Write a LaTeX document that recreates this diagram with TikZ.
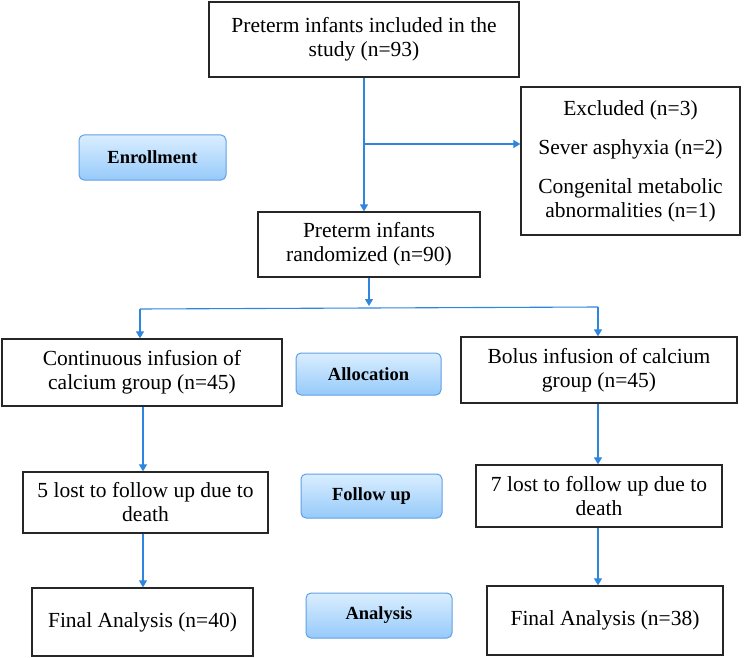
\documentclass[tikz,border=0pt]{standalone}
\usepackage{fontspec}
\setmainfont{LiberationSerif}[Extension=.ttf, UprightFont=*-Regular, BoldFont=*-Bold, ItalicFont=*-Italic, BoldItalicFont=*-BoldItalic]
\usetikzlibrary{arrows.meta}
\definecolor{arrowblue}{RGB}{46,134,222}
\definecolor{btnborder}{RGB}{95,160,228}
\definecolor{btntop}{RGB}{218,238,255}
\definecolor{btnbot}{RGB}{150,202,250}
\tikzset{
  flowbox/.style={draw=black!85, line width=1.3pt, fill=white, align=center,
    inner sep=2pt, font=\fontsize{21.5}{24}\selectfont},
  stagebtn/.style={draw=btnborder, line width=1pt, rounded corners=5pt,
    top color=btntop, bottom color=btnbot, align=center,
    font=\bfseries\fontsize{18.5}{22}\selectfont},
  flowarrow/.style={draw=arrowblue, line width=1.1pt,
    -{Triangle[width=8pt,length=7pt]}},
  flowline/.style={draw=arrowblue, line width=1.1pt}
}
\begin{document}
\begin{tikzpicture}[x=1pt,y=-1pt]
\useasboundingbox (0,0) rectangle (744,658);
% boxes
\node[flowbox, minimum width=310pt, minimum height=75pt] (top) at (364,39.5)
  {Preterm infants included in the\\ study (n=93)};
\node[flowbox, minimum width=219pt, minimum height=148pt] (excl) at (630.5,161)
  {Excluded (n=3)\\[15pt] Sever asphyxia (n=2)\\[15pt] Congenital metabolic\\ abnormalities (n=1)};
\node[flowbox, minimum width=222pt, minimum height=65pt] (rand) at (369,244.5)
  {Preterm infants\\ randomized (n=90)};
\node[flowbox, minimum width=280pt, minimum height=67pt] (contL) at (142,372.5)
  {Continuous infusion of\\ calcium group (n=45)};
\node[flowbox, minimum width=276pt, minimum height=66pt] (contR) at (599,370)
  {Bolus infusion of calcium\\ group (n=45)};
\node[flowbox, minimum width=245pt, minimum height=61pt] (folL) at (145.5,502.5)
  {5 lost to follow up due to\\ death};
\node[flowbox, minimum width=246pt, minimum height=62pt] (folR) at (599,496)
  {7 lost to follow up due to\\ death};
\node[flowbox, minimum width=221pt, minimum height=68pt] (finL) at (142.5,622)
  {Final Analysis (n=40)};
\node[flowbox, minimum width=236pt, minimum height=69pt] (finR) at (605,620.5)
  {Final Analysis (n=38)};
% stage buttons
\node[stagebtn, minimum width=147pt, minimum height=45pt] (enr) at (152.5,157.5) {Enrollment};
\node[stagebtn, minimum width=145pt, minimum height=42pt] (alloc) at (368.5,374) {Allocation};
\node[stagebtn, minimum width=141pt, minimum height=44pt] (follow) at (371.5,496) {Follow up};
\node[stagebtn, minimum width=146pt, minimum height=45pt] (anal) at (379,615.5) {Analysis};
% connector coordinates
\coordinate (br) at (364,144);
\coordinate (mid) at (369,306);
\coordinate (splitL) at (140,309);
\coordinate (splitR) at (598,307);
\coordinate (lx) at (143,0);
\coordinate (rx) at (598,0);
% connectors
\draw[flowarrow] (top.south) -- (top.south |- rand.north);
\draw[flowarrow] (br) -- (br -| excl.west);
\draw[flowarrow] (rand.south -| mid) -- (mid);
\draw[flowline] (splitL) -- (splitR);
\draw[flowarrow] (splitL) -- (splitL |- contL.north);
\draw[flowarrow] (splitR) -- (splitR |- contR.north);
\draw[flowarrow] (lx |- contL.south) -- (lx |- folL.north);
\draw[flowarrow] (lx |- folL.south) -- (lx |- finL.north);
\draw[flowarrow] (rx |- contR.south) -- (rx |- folR.north);
\draw[flowarrow] (rx |- folR.south) -- (rx |- finR.north);
\end{tikzpicture}
\end{document}
